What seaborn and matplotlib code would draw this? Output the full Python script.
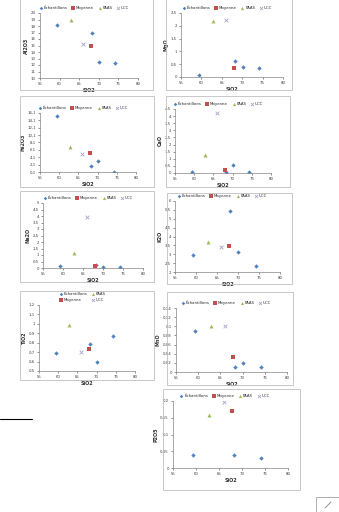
import numpy as np
import pandas as pd
import matplotlib
matplotlib.use("Agg")
import matplotlib.pyplot as plt
import seaborn as sns
from matplotlib.patches import Rectangle
from matplotlib.lines import Line2D
from matplotlib.ticker import FuncFormatter

sns.set_theme(style="white")
plt.rcParams['font.family'] = ['DejaVu Sans']

groups = ["Échantillons", "Moyenne", "PAAS", "UCC"]

# SiO2 values
sio2_samples = [59.3, 68.2, 70.1, 74.2]
sio2_moyenne = 67.9
sio2_paas = 62.8
sio2_ucc = 66.0

# oxide values: samples, then [moyenne, PAAS, UCC]
al2o3_samples = [18.1, 16.9, 12.5, 12.3]; al2o3_ref = [15.0, 18.9, 15.2]
mgo_samples = [0.08, 0.64, 0.40, 0.36]; mgo_ref = [0.37, 2.20, 2.23]
fe2o3_samples = [15.4, 1.8, 3.1, 0.2]; fe2o3_ref = [5.2, 7.0, 5.0]
cao_samples = [0.07, 0.07, 0.58, 0.05]; cao_ref = [0.19, 1.25, 4.2]
na2o_samples = [0.18, 0.20, 0.10, 0.05]; na2o_ref = [0.13, 1.15, 3.95]
k2o_samples = [2.94, 5.44, 3.10, 2.36]; k2o_ref = [3.46, 3.70, 3.42]
tio2_samples = [0.69, 0.79, 0.60, 0.87]; tio2_ref = [0.735, 0.99, 0.70]
mno_samples = [0.09, 0.01, 0.02, 0.01]; mno_ref = [0.033, 0.10, 0.10]
p2o5_samples = [0.039, 0.039, np.nan, 0.030]; p2o5_ref = [0.17, 0.159, 0.197]

x_ticks = [55, 60, 65, 70, 75, 80]

palette = {"Échantillons": "#4F81BD", "Moyenne": "#C0504D", "PAAS": "#9BBB59", "UCC": "#A8A2CC"}
markers = {"Échantillons": "D", "Moyenne": "s", "PAAS": "^", "UCC": "x"}
sizes = {"Échantillons": 5, "Moyenne": 10, "PAAS": 8, "UCC": 7}
lws = {"Échantillons": 0, "Moyenne": 0, "PAAS": 0, "UCC": 0.6}

W, H = 339, 512
fig = plt.figure(figsize=(W / 100, H / 100), dpi=100)
fig.patch.set_facecolor("white")


def box(x0, y0, x1, y1):
    return [x0 / W, 1 - y1 / H, (x1 - x0) / W, (y1 - y0) / H]


def frame(x0, y0, x1, y1, color="#BFBFBF", lw=0.6):
    fig.add_artist(Rectangle((x0 / W, 1 - y1 / H), (x1 - x0) / W, (y1 - y0) / H,
                             transform=fig.transFigure, fill=False, edgecolor=color, lw=lw))


def fr(v, p):
    return ("%g" % round(v, 3)).replace(".", ",")


charts = [
    ("Al2O3", al2o3_samples, al2o3_ref, (40, 13, 138, 78), (10, 20), np.arange(10, 21, 1), (20, -1, 153, 90), 4),
    ("MgO", mgo_samples, mgo_ref, (181, 13, 283, 77), (0, 2.5), np.arange(0, 2.51, 0.5), (166, -1, 292, 90), 4),
    ("Fe2O3", fe2o3_samples, fe2o3_ref, (40, 113, 136, 172), (0.1, 16.1), np.arange(0.1, 16.2, 2), (20, 96, 154, 187), 4),
    ("CaO", cao_samples, cao_ref, (175, 109, 271, 173), (0, 4.5), np.arange(0, 4.51, 0.5), (166, 96, 290, 187), 4),
    ("Na2O", na2o_samples, na2o_ref, (43, 203, 143, 268), (0, 5), np.arange(0, 5.01, 0.5), (20, 191, 154, 282), 4),
    ("K2O", k2o_samples, k2o_ref, (175, 201, 280, 272), (2, 6), np.arange(2, 6.01, 0.5), (167, 193, 292, 284), 4),
    ("TiO2", tio2_samples, tio2_ref, (39, 305, 135, 371), (0.5, 1.2), np.arange(0.5, 1.21, 0.1), (20, 291, 154, 380), 2),
    ("MnO", mno_samples, mno_ref, (176, 308, 287, 372), (0, 0.14), np.arange(0, 0.141, 0.02), (167, 292, 293, 385), 4),
    ("P2O5", p2o5_samples, p2o5_ref, (173, 401, 288, 468), (0, 0.2), np.arange(0, 0.201, 0.05), (163, 389, 300, 490), 4),
]

for name, samp, ref, pbox, ylim, yt, fbox, ncol in charts:
    frame(*fbox)
    ax = fig.add_axes(box(*pbox))
    df = pd.DataFrame({
        "SiO2": sio2_samples + [sio2_moyenne, sio2_paas, sio2_ucc],
        "val": list(samp) + list(ref),
        "grp": ["Échantillons"] * 4 + ["Moyenne", "PAAS", "UCC"],
    })
    for g in groups:
        sub = df[df.grp == g]
        sns.scatterplot(data=sub, x="SiO2", y="val", color=palette[g], marker=markers[g],
                        s=sizes[g], linewidth=lws[g], ax=ax, label=g, legend=False)
    ax.set_xlim(55, 80)
    ax.set_ylim(*ylim)
    ax.set_xticks(x_ticks)
    ax.set_yticks(yt)
    ax.yaxis.set_major_formatter(FuncFormatter(fr))
    ax.tick_params(axis="both", labelsize=2.8, length=1.5, width=0.4, pad=1.5,
                   colors="#404040", bottom=True, left=True)
    for s in ["top", "right"]:
        ax.spines[s].set_visible(False)
    for s in ["left", "bottom"]:
        ax.spines[s].set_color("#868686")
        ax.spines[s].set_linewidth(0.5)
    ax.set_xlabel("SiO2", fontsize=3.5, fontweight="bold", labelpad=1.5, color="#303030")
    ax.set_ylabel(name, fontsize=3.5, fontweight="bold", labelpad=1.5, color="#303030")
    ax.set_facecolor("white")
    h, l = ax.get_legend_handles_labels()
    ax.legend(h, l, loc="lower center", bbox_to_anchor=(0.45, 1.0), ncol=ncol,
              fontsize=2.8, frameon=False, handletextpad=0.2, columnspacing=1.0,
              markerscale=0.8, borderaxespad=0.3, handlelength=1.0)

# decorative page elements
fig.add_artist(Line2D([0, 32 / W], [1 - 419 / H] * 2, color="black", lw=0.8, transform=fig.transFigure))
frame(316, 497, 339, 513, color="#A0A0A0", lw=0.6)
fig.add_artist(Line2D([325 / W, 331 / W], [1 - 508 / H, 1 - 502 / H], color="#808080", lw=0.6,
                      transform=fig.transFigure))

fig.savefig("out.png", dpi=100, facecolor="white")
